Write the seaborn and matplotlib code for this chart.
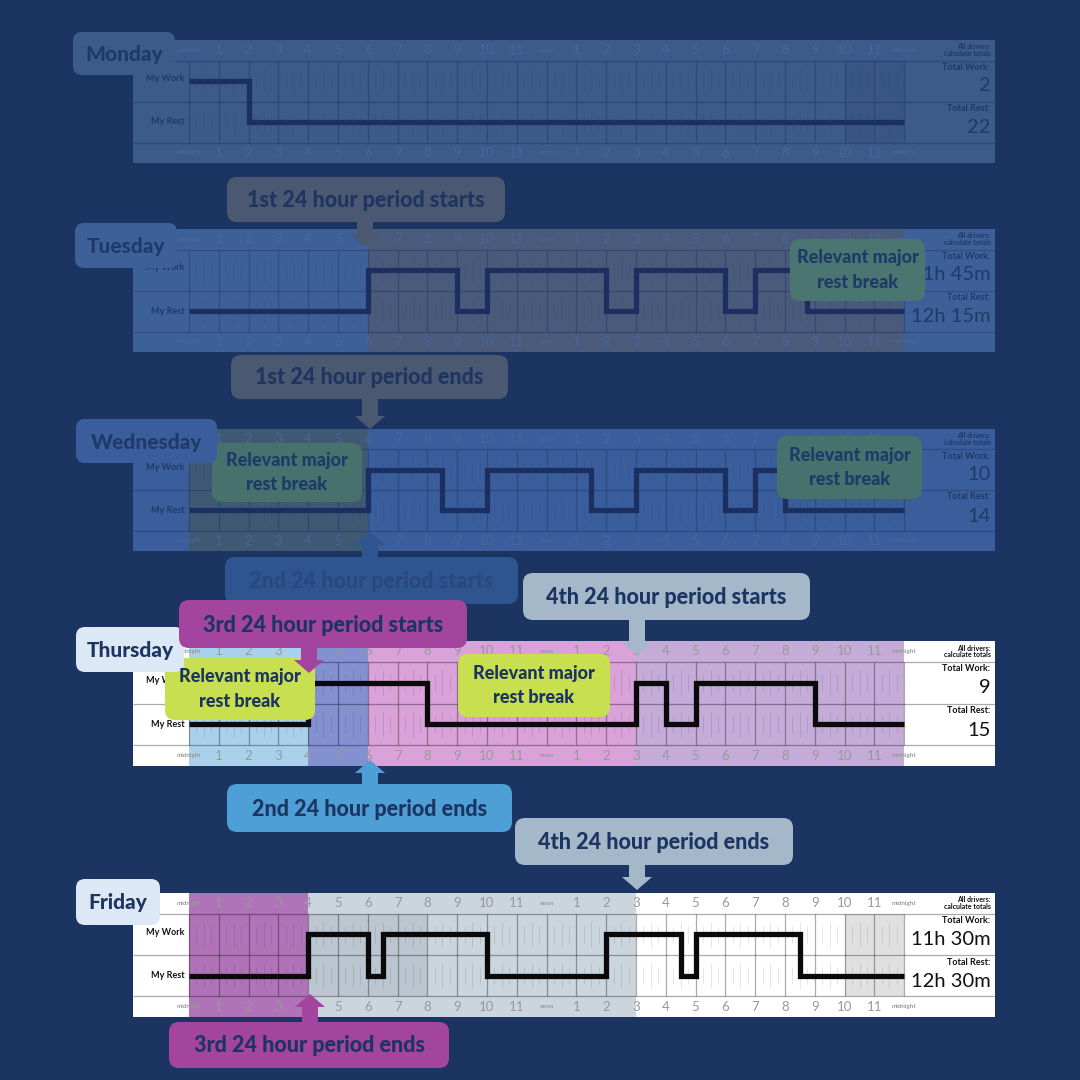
import matplotlib
matplotlib.use("Agg")
import matplotlib.pyplot as plt
import pandas as pd
import seaborn as sns
from matplotlib.patches import FancyBboxPatch, Polygon

sns.set_theme(style="white")
plt.rcParams["font.family"] = ["Lato", "DejaVu Sans"]

DAYS = ["Monday", "Tuesday", "Wednesday", "Thursday", "Friday"]

# hour at which each state starts (last entry closes the day at midnight)
MON_HOURS = [0, 2, 24]
MON_STATE = ["work", "rest", "rest"]
TUE_HOURS = [0, 6, 9, 10, 14, 15, 18, 19, 20.75, 24]
TUE_STATE = ["rest", "work", "rest", "work", "rest", "work", "rest", "work", "rest", "rest"]
WED_HOURS = [0, 6, 8.5, 10, 13.5, 15, 18, 19, 20, 24]
WED_STATE = ["rest", "work", "rest", "work", "rest", "work", "rest", "work", "rest", "rest"]
THU_HOURS = [0, 4, 8, 15, 16, 17, 21, 24]
THU_STATE = ["rest", "work", "rest", "work", "rest", "work", "rest", "rest"]
FRI_HOURS = [0, 4, 6, 6.5, 10, 14, 16.5, 17, 20.5, 24]
FRI_STATE = ["rest", "work", "rest", "work", "rest", "work", "rest", "work", "rest", "rest"]

TOTAL_WORK = ["2", "11h 45m", "10", "9", "11h 30m"]
TOTAL_REST = ["22", "12h 15m", "14", "15", "12h 30m"]

HOUR_LABELS = ["midnight", "1", "2", "3", "4", "5", "6", "7", "8", "9", "10", "11",
               "noon", "1", "2", "3", "4", "5", "6", "7", "8", "9", "10", "11", "midnight"]

PERIOD_LABELS = ["1st 24 hour period starts", "1st 24 hour period ends",
                 "2nd 24 hour period starts", "2nd 24 hour period ends",
                 "3rd 24 hour period starts", "3rd 24 hour period ends",
                 "4th 24 hour period starts", "4th 24 hour period ends"]
BREAK_LABEL = "Relevant major\nrest break"

LEVEL = {"work": 2.0, "rest": 1.0}

# ---- styling ----
BG = "#1b3461"
NAVY = "#1c3461"
PX_PER_HOUR = 29.8
HOUR0_PX = 189
X_LEFT, X_RIGHT = 133, 995
CARDS = [(40, 163), (229, 352), (429, 551), (641, 766), (893, 1017)]

faded = dict(line="#1b3060", grid="#1b3060", grid_alpha=0.4, tick="#48669a",
             text="#1f3a69", faint=0.12)
bright = dict(line="#0a0a0a", grid="#000000", grid_alpha=0.33, tick="#999999",
              text="#111111", faint=0.1)

STYLES = [
    dict(faded, card="#3c5a8a", label_bg="#3c5a8a", total_bg="#3c5a8a",
         spans=[(22, 24, "#385583", False)]),
    dict(faded, card="#3e6098", label_bg="#3e6098", total_bg="#3e6098",
         spans=[(6, 24, "#4a5a7b", True)]),
    dict(faded, card="#3a5e9c", label_bg="#3a5e9c", total_bg="#3a5e9c",
         spans=[(0, 6, "#3f5873", True)]),
    dict(bright, card="white", label_bg="white", total_bg="white",
         spans=[(0, 4, "#a9d1ec", True), (4, 6, "#8491d0", True),
                (6, 15, "#d9a2d8", True), (15, 24, "#c5acd8", True)]),
    dict(bright, card="white", label_bg="white", total_bg="white",
         spans=[(0, 4, "#b073b7", True), (4, 15, "#cbd5de", True),
                (4, 8, "#bcc6d0", False), (22, 24, "#e0e0e0", False)]),
]

fig = plt.figure(figsize=(10.8, 10.8), dpi=100, facecolor=BG)


def px2h(px):
    return (px - HOUR0_PX) / PX_PER_HOUR


def draw_day(ax, hours, states, work, rest, st):
    ax.set_facecolor(st["card"])
    x0, x1 = px2h(X_LEFT), px2h(X_RIGHT)
    ax.axvspan(x0, 0, color=st["label_bg"], lw=0, zorder=0.2)
    ax.axvspan(24, x1, color=st["total_bg"], lw=0, zorder=0.2)
    for a, b, c, full in st["spans"]:
        if full:
            ax.axvspan(a, b, color=c, lw=0, zorder=0.3)
        else:
            ax.axvspan(a, b, ymin=0.5 / 3, ymax=2.5 / 3, color=c, lw=0, zorder=0.4)

    # logbook grid: hour lines plus short quarter-hour marks in each row
    for h in range(25):
        ax.vlines(h, 0.5, 2.5, color=st["grid"], alpha=st["grid_alpha"], lw=0.9, zorder=1)
        if h < 24:
            for q in (0.25, 0.5, 0.75):
                ext = 0.3 if q == 0.5 else 0.2
                for mid in (1.0, 2.0):
                    ax.vlines(h + q, mid - ext, mid + ext, color=st["grid"],
                              alpha=st["faint"], lw=0.7, zorder=1)
    for y in (0.5, 1.5, 2.5):
        ax.hlines(y, x0, x1, color=st["grid"], alpha=st["grid_alpha"], lw=0.9, zorder=1)

    df = pd.DataFrame({"hour": hours, "level": [LEVEL[s] for s in states]})
    sns.lineplot(data=df, x="hour", y="level", drawstyle="steps-post", color=st["line"],
                 lw=3.8, ax=ax, zorder=3, solid_joinstyle="miter", solid_capstyle="butt")

    for i, lab in enumerate(HOUR_LABELS):
        small = not lab.isdigit()
        for y in (2.75, 0.25):
            ax.text(i, y, lab, ha="center", va="center", color=st["tick"],
                    fontsize=4.5 if small else 9.5, fontweight="bold" if small else "normal",
                    zorder=4)

    ax.text(-0.15, 2.05, "My Work", ha="right", va="center", fontsize=6.5,
            fontweight="bold", color=st["text"], zorder=4)
    ax.text(-0.15, 1.0, "My Rest", ha="right", va="center", fontsize=6.5,
            fontweight="bold", color=st["text"], zorder=4)

    xr = x1 - 0.15
    ax.text(xr, 2.75, "All drivers:\ncalculate totals", ha="right", va="center",
            fontsize=5, fontweight="bold", color=st["text"], linespacing=0.95, zorder=4)
    ax.text(xr, 2.33, "Total Work:", ha="right", va="center", fontsize=6.5,
            fontweight="bold", color=st["text"], zorder=4)
    ax.text(xr, 1.88, work, ha="right", va="center", fontsize=14.5, color=st["text"], zorder=4)
    ax.text(xr, 1.33, "Total Rest:", ha="right", va="center", fontsize=6.5,
            fontweight="bold", color=st["text"], zorder=4)
    ax.text(xr, 0.86, rest, ha="right", va="center", fontsize=14.5, color=st["text"], zorder=4)

    ax.set_xlim(x0, x1)
    ax.set_ylim(0, 3)
    ax.set_xlabel("")
    ax.set_ylabel("")
    ax.set_xticks([])
    ax.set_yticks([])
    for s in ax.spines.values():
        s.set_visible(False)


day_data = [(MON_HOURS, MON_STATE), (TUE_HOURS, TUE_STATE), (WED_HOURS, WED_STATE),
            (THU_HOURS, THU_STATE), (FRI_HOURS, FRI_STATE)]

for i, ((hours, states), (top, bot)) in enumerate(zip(day_data, CARDS)):
    ax = fig.add_axes([X_LEFT / 1080, 1 - bot / 1080, (X_RIGHT - X_LEFT) / 1080, (bot - top) / 1080])
    draw_day(ax, hours, states, TOTAL_WORK[i], TOTAL_REST[i], STYLES[i])

# ---- overlay in pixel coordinates for labels and callouts ----
ov = fig.add_axes([0, 0, 1, 1], zorder=10)
ov.set_xlim(0, 1080)
ov.set_ylim(1080, 0)
ov.axis("off")
ov.patch.set_alpha(0)


def rbox(x0, y0, x1, y1, face, r=10):
    ov.add_patch(FancyBboxPatch((x0, y0), x1 - x0, y1 - y0,
                                boxstyle=f"round,pad=0,rounding_size={r}",
                                fc=face, ec="none"))


def arrow(tx, ty, base, face):
    sw, hw, hl = 8, 15, 13
    d = 1 if ty > base else -1
    pts = [(tx - sw, base - d), (tx + sw, base - d), (tx + sw, ty - d * hl),
           (tx + hw, ty - d * hl), (tx, ty), (tx - hw, ty - d * hl), (tx - sw, ty - d * hl)]
    ov.add_patch(Polygon(pts, closed=True, fc=face, ec="none"))


def callout(box, text, face, txt, tip, size=15.5):
    x0, y0, x1, y1 = box
    rbox(x0, y0, x1, y1, face)
    base = y1 if tip[1] > y1 else y0
    arrow(tip[0], tip[1], base, face)
    ov.text((x0 + x1) / 2, (y0 + y1) / 2 + 1, text, ha="center", va="center",
            fontsize=size, fontweight="black", color=txt)


def break_box(box, face, txt, size=13):
    x0, y0, x1, y1 = box
    rbox(x0, y0, x1, y1, face)
    ov.text((x0 + x1) / 2, (y0 + y1) / 2, BREAK_LABEL, ha="center", va="center",
            fontsize=size, fontweight="black", color=txt, linespacing=1.55)


# relevant major rest break boxes
break_box((790, 239, 925, 301), "#4b7570", "#1e3a68")
break_box((212, 443, 362, 502), "#46716d", "#1e3a68")
break_box((777, 436, 922, 499), "#46716d", "#1e3a68")
break_box((165, 658, 315, 720), "#c8df4f", NAVY)
break_box((458, 654, 610, 717), "#c8df4f", NAVY)

# day labels
day_boxes = [(73, 32, 175, 75), (75, 223, 177, 268), (76, 419, 217, 463),
             (76, 627, 184, 672), (76, 879, 160, 925)]
day_faces = ["#3c5a8a", "#3e6098", "#3a5e9c", "#dce8f5", "#dce8f5"]
day_txt = ["#1f3a68", "#1f3a68", "#1f3a68", NAVY, NAVY]
for name, (x0, y0, x1, y1), fc, tc in zip(DAYS, day_boxes, day_faces, day_txt):
    rbox(x0, y0, x1, y1, fc, r=9)
    ov.text((x0 + x1) / 2, (y0 + y1) / 2 + 1, name, ha="center", va="center",
            fontsize=15, fontweight="black", color=tc)

# period callouts
callout((227, 177, 505, 222), PERIOD_LABELS[0], "#4b5872", "#1e3560", (365, 247))
callout((231, 355, 508, 399), PERIOD_LABELS[1], "#4b5872", "#1e3560", (370, 429))
callout((225, 557, 518, 604), PERIOD_LABELS[2], "#2e5590", "#28487e", (370, 532))
callout((179, 600, 467, 648), PERIOD_LABELS[4], "#a3449f", NAVY, (309, 673))
callout((523, 573, 810, 620), PERIOD_LABELS[6], "#a5b8ca", NAVY, (637, 655))
callout((227, 784, 512, 832), PERIOD_LABELS[3], "#4d9fd6", NAVY, (370, 760))
callout((515, 818, 793, 865), PERIOD_LABELS[7], "#a5b8ca", NAVY, (637, 890))
callout((169, 1022, 449, 1068), PERIOD_LABELS[5], "#a3449f", NAVY, (310, 994))

fig.savefig("out.png", dpi=100, facecolor=BG)
